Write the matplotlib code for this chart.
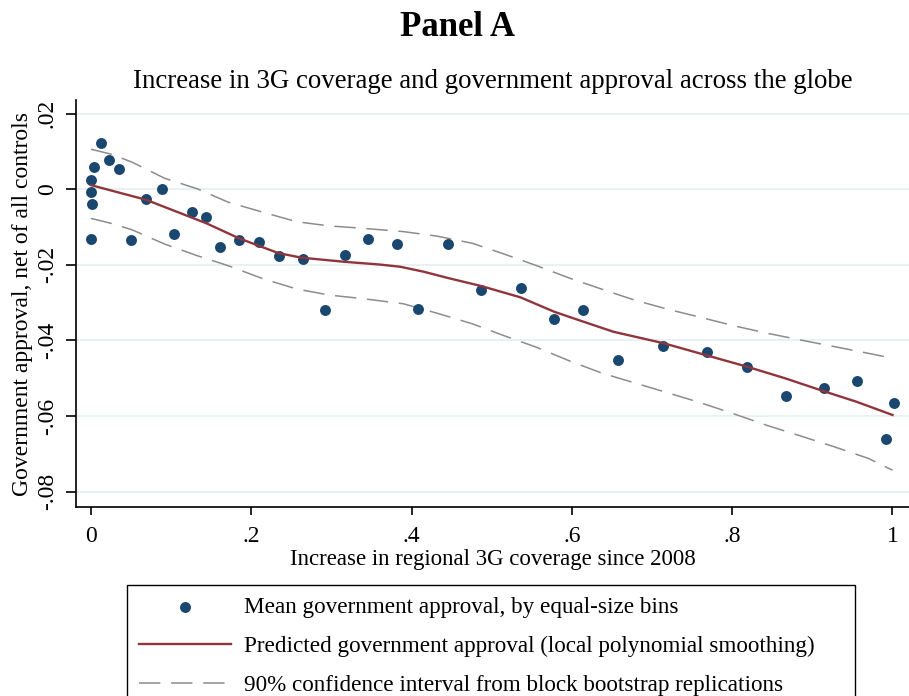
import matplotlib
matplotlib.use("Agg")
import matplotlib.pyplot as plt

# ---- data ----
bin_x = [0.000, 0.000, 0.001, 0.000, 0.004, 0.012, 0.023, 0.035, 0.050, 0.069,
         0.089, 0.104, 0.126, 0.144, 0.161, 0.185, 0.209, 0.234, 0.264, 0.292,
         0.317, 0.346, 0.382, 0.408, 0.446, 0.487, 0.536, 0.578, 0.614, 0.657,
         0.714, 0.769, 0.818, 0.867, 0.914, 0.956, 0.992, 1.002]
bin_y = [-0.0131, -0.0006, -0.0038, 0.0024, 0.0059, 0.0123, 0.0077, 0.0054, -0.0134, -0.0026,
         0.0000, -0.0117, -0.0060, -0.0073, -0.0153, -0.0134, -0.0140, -0.0177, -0.0184, -0.0320,
         -0.0173, -0.0131, -0.0144, -0.0317, -0.0144, -0.0267, -0.0260, -0.0344, -0.0320, -0.0451,
         -0.0415, -0.0430, -0.0470, -0.0547, -0.0527, -0.0508, -0.0661, -0.0565]

fit_x = [0.0, 0.069, 0.144, 0.185, 0.234, 0.263, 0.317, 0.36, 0.386, 0.415, 0.446, 0.487, 0.536,
         0.578, 0.614, 0.652, 0.714, 0.766, 0.818, 0.866, 0.914, 0.955, 1.0]
fit_y = [0.0011, -0.0028, -0.0090, -0.0130, -0.0169, -0.0181, -0.0192, -0.0199, -0.0205, -0.0218,
         -0.0235, -0.0256, -0.0286, -0.0324, -0.0350, -0.0377, -0.0407, -0.0438, -0.0469, -0.0500,
         -0.0534, -0.0562, -0.0597]

ci_x = [0.0, 0.025, 0.051, 0.092, 0.133, 0.171, 0.215, 0.257, 0.298, 0.338, 0.39, 0.432, 0.476, 0.515,
        0.556, 0.597, 0.637, 0.678, 0.719, 0.761, 0.802, 0.844, 0.886, 0.927, 0.97, 1.0]
ci_hi = [0.0106, 0.0093, 0.0072, 0.0029, 0.0001, -0.0034, -0.0061, -0.0086, -0.0097, -0.0103, -0.0112,
         -0.0124, -0.0143, -0.0171, -0.0202, -0.0235, -0.0264, -0.0293, -0.0317, -0.0339, -0.0361,
         -0.0381, -0.0399, -0.0416, -0.0434, -0.0447]
ci_lo = [-0.0077, -0.0090, -0.0107, -0.0145, -0.0176, -0.0202, -0.0237, -0.0264, -0.0280, -0.0289,
         -0.0303, -0.0328, -0.0356, -0.0387, -0.0418, -0.0454, -0.0486, -0.0512, -0.0538, -0.0565,
         -0.0594, -0.0625, -0.0653, -0.0681, -0.0712, -0.0743]

x_ticks = [0, 0.2, 0.4, 0.6, 0.8, 1.0]
x_ticklabels = ["0", ".2", ".4", ".6", ".8", "1"]
y_ticks = [-0.08, -0.06, -0.04, -0.02, 0.0, 0.02]
y_ticklabels = ["-.08", "-.06", "-.04", "-.02", "0", ".02"]

labels = ["Mean government approval, by equal-size bins",
          "Predicted government approval (local polynomial smoothing)",
          "90% confidence interval from block bootstrap replications"]

# ---- style ----
plt.rcParams['font.family'] = ['Liberation Serif', 'DejaVu Serif']
NAVY = '#1a476f'
MAROON = '#90353b'
GREY = '#8c8c8c'
GRID = '#e8f0f2'

W, H = 909, 696
fig = plt.figure(figsize=(W / 100, H / 100), dpi=100)
ax = fig.add_axes([76 / W, 1 - 507 / H, 1 - 76 / W, (507 - 100) / H])
ax.set_xlim(-0.0187, 1.0206)
ax.set_ylim(-0.08405, 0.02362)

for s in ['top', 'right']:
    ax.spines[s].set_visible(False)
for s in ['left', 'bottom']:
    ax.spines[s].set_linewidth(1.2)
    ax.spines[s].set_color('black')

ax.set_yticks(y_ticks)
ax.set_yticklabels(y_ticklabels, rotation=90, va='center')
ax.set_xticks(x_ticks)
ax.set_xticklabels(x_ticklabels)
ax.tick_params(axis='y', length=7, width=1.2, pad=6, labelsize=17)
ax.tick_params(axis='x', length=6, width=1.2, pad=8, labelsize=17)
ax.yaxis.grid(True, color=GRID, linewidth=1.3)
ax.set_axisbelow(True)

sc = ax.scatter(bin_x, bin_y, s=62, color=NAVY, zorder=3, linewidths=0)
ln, = ax.plot(fit_x, fit_y, color=MAROON, linewidth=1.7, zorder=4)
ci1, = ax.plot(ci_x, ci_hi, color=GREY, linewidth=1.1, dashes=(14, 7), zorder=2)
ax.plot(ci_x, ci_lo, color=GREY, linewidth=1.1, dashes=(14, 7), zorder=2)

ax.set_xlabel("Increase in regional 3G coverage since 2008", fontsize=16.5, labelpad=1)
ax.set_ylabel("Government approval, net of all controls", fontsize=17, labelpad=3)
ax.set_title("Increase in 3G coverage and government approval across the globe",
             fontsize=19.4, pad=9)

fig.text(0.503, 1 - 36 / H, "Panel A", ha='center', va='baseline',
         fontsize=25, fontweight='bold')

leg = fig.legend([sc, ln, ci1], labels, loc='upper left',
                 bbox_to_anchor=(127 / W, 0, (855 - 127) / W, 1 - 585 / H),
                 mode='expand', borderaxespad=0, fontsize=16.7, frameon=True,
                 fancybox=False, framealpha=1, edgecolor='black',
                 handlelength=4.0, handletextpad=0.55, labelspacing=0.78,
                 borderpad=0.5, scatterpoints=1)
leg.get_frame().set_linewidth(1.0)

fig.savefig("out.png", dpi=100)
